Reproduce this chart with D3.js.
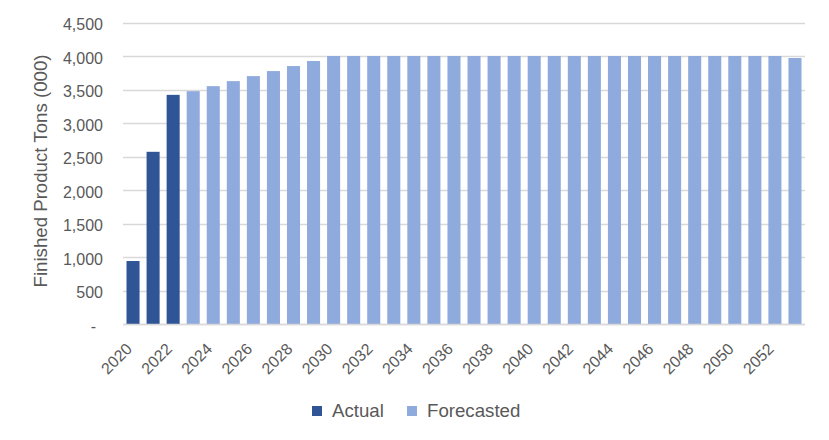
<!DOCTYPE html>
<html><head><meta charset="utf-8">
<script src="https://cdn.jsdelivr.net/npm/d3@7"></script>
<style>
html,body{margin:0;padding:0;background:#fff;}
text{font-family:"Liberation Sans",Arial,sans-serif;fill:#595959;}
</style></head>
<body>
<svg id="chart" width="829" height="440"></svg>
<script>
const years = d3.range(2020, 2054).map(String);
const actualValues = [940, 2570, 3420, null, null, null, null, null, null, null, null, null, null, null, null, null, null, null, null, null, null, null, null, null, null, null, null, null, null, null, null, null, null, null];
const forecastValues = [null, null, null, 3475, 3550, 3625, 3700, 3775, 3850, 3925, 4000, 4000, 4000, 4000, 4000, 4000, 4000, 4000, 4000, 4000, 4000, 4000, 4000, 4000, 4000, 4000, 4000, 4000, 4000, 4000, 4000, 4000, 4000, 3970];
const yTicks = [0, 500, 1000, 1500, 2000, 2500, 3000, 3500, 4000, 4500];
const xTickLabels = years.filter((d, i) => i % 2 === 0);
const seriesNames = ["Actual", "Forecasted"];
const seriesColors = ["#2F5597", "#8FAADC"];
const yTitle = "Finished Product Tons (000)";

const svg = d3.select("#chart");
const pLeft = 123, pRight = 805, pTop = 22.5, pBottom = 324;
const FONT = '"Liberation Sans", Arial, sans-serif';

const x = d3.scaleBand().domain(years).range([pLeft, pRight]).paddingInner(0.35).paddingOuter(0.175);
const y = d3.scaleLinear().domain([0, 4500]).range([pBottom, pTop]);

// gridlines
svg.append("g").selectAll("line").data(yTicks).join("line")
  .attr("x1", pLeft).attr("x2", pRight)
  .attr("y1", d => Math.round(y(d)) + 0.5).attr("y2", d => Math.round(y(d)) + 0.5)
  .attr("stroke", "#d9d9d9").attr("stroke-width", 1.3);

// y axis labels
const yAxis = d3.axisLeft(y).tickValues(yTicks).tickSize(0).tickPadding(20)
  .tickFormat(d => d === 0 ? "-" : d3.format(",")(d));
const gy = svg.append("g").attr("transform", `translate(${pLeft},0)`).call(yAxis);
gy.select(".domain").remove();
gy.selectAll("text").style("font-size", "16px").attr("fill", "#595959")
  .style("font-family", FONT)
  .attr("dy", "0.45em")
  .attr("dx", d => d === 0 ? -7 : 0);

// bars
const rows = years.map((yr, i) => ({yr, a: actualValues[i], f: forecastValues[i]}));
svg.append("g").selectAll("rect").data(rows.filter(r => r.a != null)).join("rect")
  .attr("x", d => x(d.yr)).attr("width", x.bandwidth())
  .attr("y", d => y(d.a)).attr("height", d => y(0) - y(d.a))
  .attr("fill", seriesColors[0]);
svg.append("g").selectAll("rect").data(rows.filter(r => r.f != null)).join("rect")
  .attr("x", d => x(d.yr)).attr("width", x.bandwidth())
  .attr("y", d => y(d.f)).attr("height", d => y(0) - y(d.f))
  .attr("fill", seriesColors[1]);

// x axis
const xAxis = d3.axisBottom(x).tickValues(xTickLabels).tickSize(0).tickPadding(0);
const gx = svg.append("g").attr("transform", `translate(0,${pBottom})`).call(xAxis);
gx.select(".domain").remove();
gx.selectAll("text").style("font-size", "16px").attr("fill", "#595959")
  .style("font-family", FONT)
  .attr("text-anchor", "end").attr("dy", "0.35em")
  .attr("transform", "translate(-4,22) rotate(-45)");
svg.append("line").attr("x1", pLeft).attr("x2", pRight)
  .attr("y1", pBottom + 0.5).attr("y2", pBottom + 0.5)
  .attr("stroke", "#d9d9d9").attr("stroke-width", 1.3);

// y title
svg.append("text").attr("transform", `translate(47,171) rotate(-90)`)
  .attr("text-anchor", "middle").style("font-size", "18.67px").text(yTitle);

// legend
const legendX = [312, 407];
const lg = svg.append("g").selectAll("g").data(seriesNames).join("g")
  .attr("transform", (d, i) => `translate(${legendX[i]},406)`);
lg.append("rect").attr("width", 10).attr("height", 10).attr("fill", (d, i) => seriesColors[i]);
lg.append("text").attr("x", 20).attr("y", 10.7).style("font-size", "18.67px").text(d => d);
</script>
</body></html>
